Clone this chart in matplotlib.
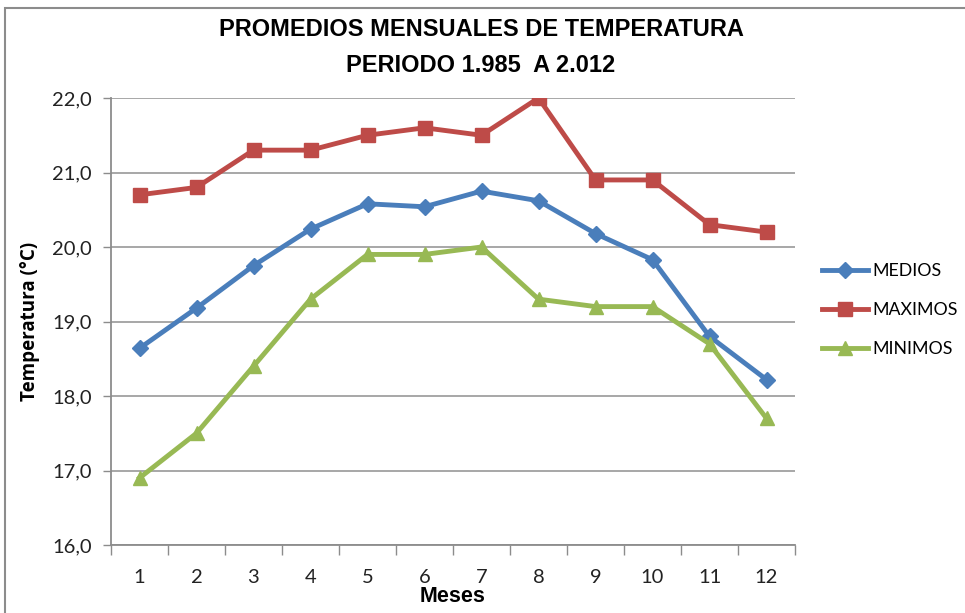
import matplotlib.pyplot as plt
from matplotlib.patches import Rectangle
import numpy as np

meses = [1, 2, 3, 4, 5, 6, 7, 8, 9, 10, 11, 12]
medios = [18.64, 19.18, 19.75, 20.24, 20.58, 20.54, 20.75, 20.62, 20.18, 19.83, 18.80, 18.22]
maximos = [20.7, 20.8, 21.3, 21.3, 21.5, 21.6, 21.5, 22.0, 20.9, 20.9, 20.3, 20.2]
minimos = [16.9, 17.5, 18.4, 19.3, 19.9, 19.9, 20.0, 19.3, 19.2, 19.2, 18.7, 17.7]
y_ticks = [16, 17, 18, 19, 20, 21, 22]

narrow = ['Liberation Sans Narrow', 'Liberation Sans', 'DejaVu Sans']
body = ['Lato', 'DejaVu Sans']

fig = plt.figure(figsize=(9.65, 6.13), dpi=100)
# grey chart frame, cut off at the right and bottom like the screenshot
fig.patches.append(Rectangle((5 / 965, -0.1), 1.2, 1.1 - 8 / 613,
                             transform=fig.transFigure, fill=False,
                             edgecolor='#8c8c8c', linewidth=1.5))
ax = fig.add_axes([111 / 965, 1 - 545 / 613, 684 / 965, 447 / 613])

ax.plot(meses, medios, color='#4A7EBB', lw=3.5, marker='D', ms=8, label='MEDIOS')
ax.plot(meses, maximos, color='#BE4B48', lw=3.5, marker='s', ms=9.5, label='MAXIMOS')
ax.plot(meses, minimos, color='#98B954', lw=3.5, marker='^', ms=10, label='MINIMOS')

ax.set_xlim(0.5, 12.5)
ax.set_ylim(16, 22)
ax.set_yticks(y_ticks)
ax.set_yticklabels([f'{v:.1f}'.replace('.', ',') for v in y_ticks], family=body, fontsize=14.5, color='#222222')
ax.set_xticks(meses)
ax.set_xticklabels([str(m) for m in meses], family=body, fontsize=14.5, color='#222222')
ax.set_xticks(np.arange(0.5, 13, 1), minor=True)
ax.tick_params(axis='x', which='major', length=0, pad=17)
ax.tick_params(axis='x', which='minor', length=7, width=1, color='#8c8c8c', direction='out')
ax.tick_params(axis='y', length=6, width=1, color='#8c8c8c', pad=8)

ax.grid(axis='y', color='#a0a0a0', linewidth=1.3)
ax.set_axisbelow(True)
for s in ['top', 'right']:
    ax.spines[s].set_visible(False)
for s in ['left', 'bottom']:
    ax.spines[s].set_color('#8c8c8c')
    ax.spines[s].set_linewidth(1.3)

fig.text(481 / 965, 1 - 30 / 613, 'PROMEDIOS MENSUALES DE TEMPERATURA', ha='center', va='center',
         family=narrow, fontsize=17, fontweight='bold')
fig.text(481 / 965, 1 - 66 / 613, 'PERIODO 1.985  A 2.012', ha='center', va='center',
         family=narrow, fontsize=17, fontweight='bold')
fig.text(453 / 965, 1 - 597 / 613, 'Meses', ha='center', va='center',
         family=narrow, fontsize=15.5, fontweight='bold')
fig.text(30 / 965, 1 - 321 / 613, 'Temperatura (°C)', ha='center', va='center', rotation=90,
         family=['Open Sans', 'DejaVu Sans'], fontsize=13.5, fontweight='bold')

ax.legend(loc='center left', bbox_to_anchor=(813 / 965, 1 - 310 / 613), bbox_transform=fig.transFigure,
          frameon=False, prop={'family': body, 'size': 12.8}, handlelength=2.6, labelspacing=1.3,
          handletextpad=0.25, borderpad=0)

fig.savefig('out.png', dpi=100)
